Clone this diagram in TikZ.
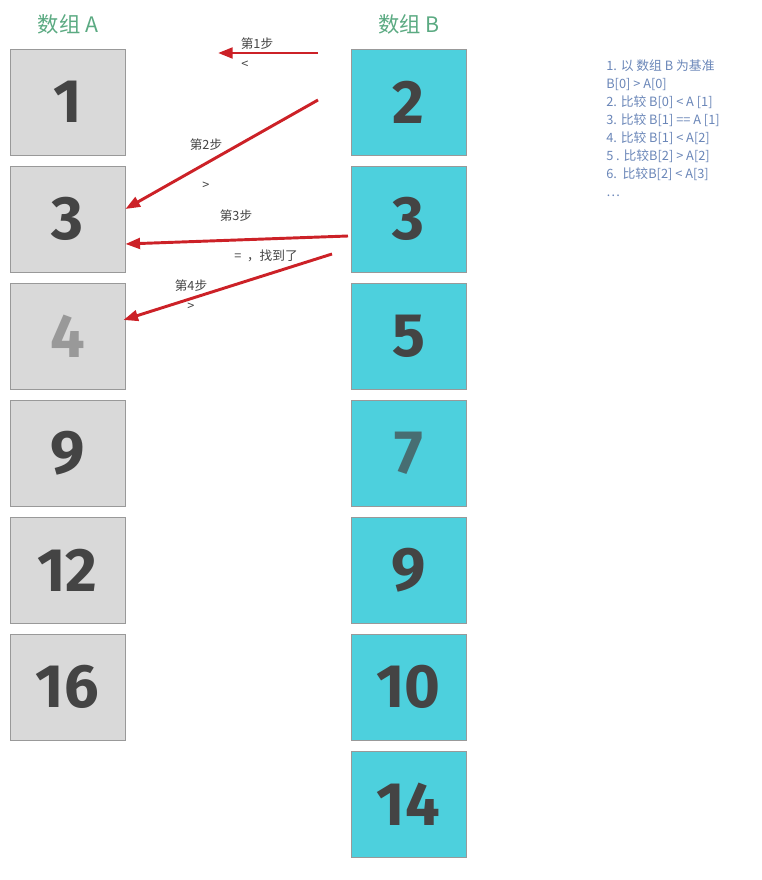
\documentclass[tikz,border=0pt]{standalone}
\usepackage{fontspec}
\setmainfont{Noto Sans CJK SC}
\newfontfamily\digitfont{Fira Sans}
\usepackage{tikz}
\usetikzlibrary{arrows.meta, positioning}

\definecolor{grayfill}{HTML}{D9D9D9}
\definecolor{cyanfill}{HTML}{4DD0DD}
\definecolor{boxline}{HTML}{999999}
\definecolor{titlegreen}{HTML}{5BAA82}
\definecolor{arrowred}{HTML}{CC2127}
\definecolor{noteblue}{HTML}{6A86B8}
\definecolor{digitgray}{HTML}{444444}

\begin{document}
\begin{tikzpicture}[x=0.75pt, y=-0.75pt,
    cell/.style={rectangle, draw=boxline, line width=0.6pt, minimum width=86.25pt, minimum height=79.5pt, inner sep=0pt, font=\digitfont\bfseries\fontsize{46}{46}\selectfont, text=digitgray},
    cella/.style={cell, fill=grayfill},
    cellb/.style={cell, fill=cyanfill},
    title/.style={font=\fontsize{16}{16}\selectfont, text=titlegreen},
    steplbl/.style={font=\fontsize{9.5}{10}\selectfont, text=digitgray, inner sep=1pt},
    arr/.style={draw=arrowred, line width=2.2pt, -{Triangle[length=11pt, width=8pt]}}]
    \useasboundingbox (0,0) rectangle (761,880);
    % titles
    \node[title] (ta) at (68,24) {数组 A};
    \node[title] (tb) at (409,24) {数组 B};
    % array A
    \node[cella] (a0) at (67.5,102) {1};
    \node[cella] (a1) at (67.5,219) {3};
    \node[cella, text=boxline] (a2) at (67.5,336) {4};
    \node[cella] (a3) at (67.5,453) {9};
    \node[cella] (a4) at (67.5,570) {12};
    \node[cella] (a5) at (67.5,687) {16};
    % array B
    \node[cellb] (b0) at (408.5,102) {2};
    \node[cellb] (b1) at (408.5,219) {3};
    \node[cellb] (b2) at (408.5,336) {5};
    \node[cellb, text=digitgray!70!cyanfill] (b3) at (408.5,453) {7};
    \node[cellb] (b4) at (408.5,570) {9};
    \node[cellb] (b5) at (408.5,687) {10};
    \node[cellb] (b6) at (408.5,804) {14};
    % steps
    \coordinate (s1) at (318,53);
    \coordinate (e1) at (218,53);
    \coordinate (s2) at (318,100);
    \coordinate (s3) at (348,236);
    \coordinate (s4) at (332,254);
    \draw[arr] (s1) -- (e1);
    \draw[arr] (s2) -- ([yshift=7.5pt]a1.east);
    \draw[arr] (s3) -- ([yshift=-18.75pt]a1.east);
    \draw[arr] (s4) -- ([yshift=12pt, xshift=-1.5pt]a2.east);
    \node[steplbl] (l1) at (257,44) {第1步};
    \node[steplbl] (c1) at (245,65) {<};
    \node[steplbl] (l2) at (206,145) {第2步};
    \node[steplbl] (c2) at (206,186) {>};
    \node[steplbl] (l3) at (236,216) {第3步};
    \node[steplbl] (c3) at (266,256) {=\ \ ，找到了};
    \node[steplbl] (l4) at (191,286) {第4步};
    \node[steplbl] (c4) at (191,307) {>};
    % notes
    \node[anchor=north west, align=left, text=noteblue, font=\fontsize{9.6}{13.5}\selectfont, inner sep=0pt] (notes) at (606,59) {1. 以 数组 B 为基准\\B[0] > A[0]\\2. 比较 B[0] < A [1]\\3. 比较 B[1] == A [1]\\4. 比较 B[1] < A[2]\\5 . 比较B[2] > A[2]\\6.\ \ 比较B[2] < A[3]\\…};
\end{tikzpicture}
\end{document}
